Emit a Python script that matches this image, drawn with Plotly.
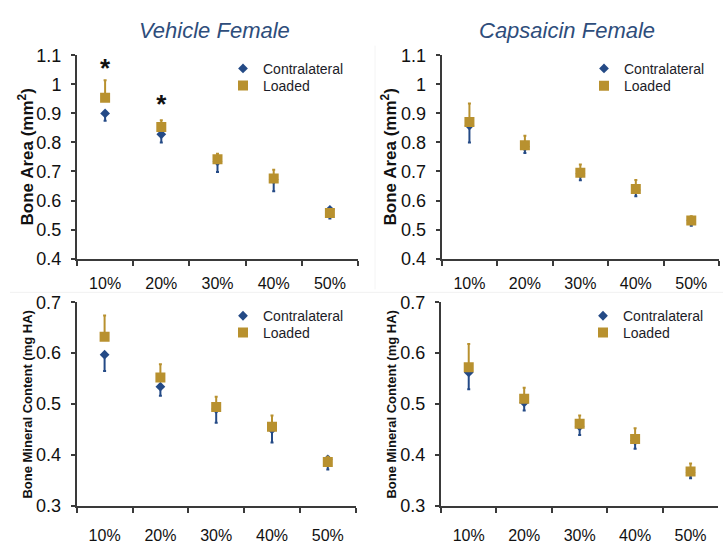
import plotly.graph_objects as go

# Cross-section positions along the bone
positions = ["10%", "20%", "30%", "40%", "50%"]

# Bone area (mm²) – vehicle females
veh_area_contra = [0.900, 0.828, 0.735, 0.672, 0.568]
veh_area_contra_err = [0.025, 0.028, 0.037, 0.040, 0.030]
veh_area_loaded = [0.954, 0.853, 0.742, 0.676, 0.557]
veh_area_loaded_err = [0.060, 0.023, 0.019, 0.030, 0.010]

# Bone area (mm²) – capsaicin females
cap_area_contra = [0.858, 0.785, 0.692, 0.636, 0.532]
cap_area_contra_err = [0.058, 0.021, 0.022, 0.021, 0.019]
cap_area_loaded = [0.870, 0.790, 0.696, 0.640, 0.531]
cap_area_loaded_err = [0.064, 0.033, 0.028, 0.031, 0.015]

# Bone mineral content (mg HA) – vehicle females
veh_bmc_contra = [0.597, 0.534, 0.490, 0.450, 0.391]
veh_bmc_contra_err = [0.032, 0.018, 0.027, 0.026, 0.020]
veh_bmc_loaded = [0.632, 0.552, 0.494, 0.455, 0.386]
veh_bmc_loaded_err = [0.042, 0.026, 0.020, 0.022, 0.010]

# Bone mineral content (mg HA) – capsaicin females
cap_bmc_contra = [0.562, 0.503, 0.456, 0.428, 0.365]
cap_bmc_contra_err = [0.033, 0.016, 0.017, 0.016, 0.011]
cap_bmc_loaded = [0.572, 0.510, 0.461, 0.431, 0.367]
cap_bmc_loaded_err = [0.046, 0.022, 0.016, 0.021, 0.016]

# Significance markers (vehicle bone area): text anchor heights
sig_positions = ["10%", "20%"]
sig_label_y = [1.046, 0.922]

panel_titles = ["Vehicle Female", "Capsaicin Female"]
area_title = "Bone Area (mm<sup>2</sup>)"
bmc_title = "Bone Mineral Content (mg HA)"

BLUE = "#244A86"
GOLD = "#B8912F"
AXIS = "#3a3a3a"
FONT = "Liberation Sans"
W, H = 723, 550

fig = go.Figure()

# (axis suffix, contra legend, loaded legend, contra, contra err, loaded, loaded err)
panels = [
    ("", "legend", "legend2", veh_area_contra, veh_area_contra_err, veh_area_loaded, veh_area_loaded_err),
    ("2", "legend3", "legend4", cap_area_contra, cap_area_contra_err, cap_area_loaded, cap_area_loaded_err),
    ("3", "legend5", "legend6", veh_bmc_contra, veh_bmc_contra_err, veh_bmc_loaded, veh_bmc_loaded_err),
    ("4", "legend7", "legend8", cap_bmc_contra, cap_bmc_contra_err, cap_bmc_loaded, cap_bmc_loaded_err),
]

for suf, leg_c, leg_l, c, ce, l, le in panels:
    fig.add_trace(go.Scatter(
        x=positions, y=c, mode="markers", name="Contralateral",
        xaxis="x" + suf, yaxis="y" + suf, legend=leg_c,
        marker=dict(symbol="diamond", size=7.5, color=BLUE),
        error_y=dict(type="data", symmetric=False, array=[0] * len(ce), arrayminus=ce,
                     color=BLUE, thickness=2, width=1.5),
    ))
    fig.add_trace(go.Scatter(
        x=positions, y=l, mode="markers", name="Loaded",
        xaxis="x" + suf, yaxis="y" + suf, legend=leg_l,
        marker=dict(symbol="square", size=10, color=GOLD),
        error_y=dict(type="data", symmetric=False, array=le, arrayminus=[0] * len(le),
                     color=GOLD, thickness=2, width=1.5),
    ))

# Significance asterisks
fig.add_trace(go.Scatter(
    x=sig_positions, y=sig_label_y, mode="text", text=["<b>*</b>"] * len(sig_positions),
    textposition="middle center", textfont=dict(family=FONT, size=26, color="#111"),
    showlegend=False, hoverinfo="skip", xaxis="x", yaxis="y",
))

# Plot-area placement in pixels: (left, right, top, bottom)
boxes = {
    "": (77, 358, 47, 258),
    "2": (441.7, 719, 47, 258),
    "3": (76.7, 355.7, 303.3, 514.3),
    "4": (441, 718.3, 303.3, 514.3),
}

def xdom(b):
    return [b[0] / W, b[1] / W]

def ydom(b):
    return [1 - b[3] / H, 1 - b[2] / H]

common_x = dict(
    type="category", range=[-0.5, 4.5], tickson="boundaries",
    showline=True, linecolor=AXIS, linewidth=2, showgrid=False, zeroline=False,
    ticks="outside", ticklen=5, tickwidth=1.5, tickcolor=AXIS,
    tickfont=dict(family=FONT, size=16, color="#111"),
)
common_y = dict(
    showline=True, linecolor=AXIS, linewidth=2, showgrid=False, zeroline=False,
    ticks="outside", ticklen=4, tickwidth=1.5, tickcolor=AXIS,
    tickfont=dict(family=FONT, size=18, color="#111"),
    ticklabelstandoff=6,
)

layout_axes = {}
for suf, top_row in [("", True), ("2", True), ("3", False), ("4", False)]:
    b = boxes[suf]
    xa = dict(common_x, domain=xdom(b), anchor="y" + suf,
              ticklabelstandoff=9 if top_row else 14)
    if top_row:
        ya = dict(common_y, domain=ydom(b), anchor="x" + suf, range=[0.4, 1.1],
                  tickvals=[0.4, 0.5, 0.6, 0.7, 0.8, 0.9, 1.0, 1.1],
                  ticktext=["0.4", "0.5", "0.6", "0.7", "0.8", "0.9", "1", "1.1"])
    else:
        ya = dict(common_y, domain=ydom(b), anchor="x" + suf, range=[0.3, 0.7],
                  tickvals=[0.3, 0.4, 0.5, 0.6, 0.7])
    layout_axes["xaxis" + suf] = xa
    layout_axes["yaxis" + suf] = ya

fig.update_layout(**layout_axes)

# One single-entry legend per series per panel: (left px, centre px)
leg_font = dict(family=FONT, size=14, color="#1c1c28")
legend_pos = {
    "legend": (223, 61), "legend2": (223, 78.7),
    "legend3": (584, 61), "legend4": (584, 79),
    "legend5": (223, 317.7), "legend6": (223, 335),
    "legend7": (583, 317.7), "legend8": (583, 335),
}
for leg, (lx, ly) in legend_pos.items():
    fig.update_layout({leg: dict(x=lx / W, y=1 - ly / H, xanchor="left", yanchor="middle",
                                 bgcolor="rgba(0,0,0,0)", borderwidth=0, font=leg_font,
                                 itemwidth=30)})

annotations = []
# Panel titles
for text, cx in zip(panel_titles, [214, 567]):
    annotations.append(dict(
        text="<i>" + text + "</i>", x=cx / W, y=1 - 21 / H, xref="paper", yref="paper",
        xanchor="center", yanchor="middle", showarrow=False,
        font=dict(family=FONT, size=22, color="#2E4D7B"),
    ))
# Vertical axis titles
for text, cx, cy, size in [(area_title, 26, 153, 17), (area_title, 389, 153, 17),
                           (bmc_title, 28, 409.5, 13), (bmc_title, 392, 409.5, 13)]:
    annotations.append(dict(
        text="<b>" + text + "</b>", x=cx / W, y=1 - cy / H, xref="paper", yref="paper",
        xanchor="center", yanchor="middle", textangle=-90, showarrow=False,
        font=dict(family=FONT, size=size, color="#111"),
    ))

fig.update_layout(
    width=W, height=H, margin=dict(l=0, r=0, t=0, b=0), showlegend=True,
    paper_bgcolor="white", plot_bgcolor="white",
    annotations=annotations,
    shapes=[
        # faint seams between the four panels
        dict(type="line", xref="paper", yref="paper", x0=10 / W, x1=1, y0=1 - 293 / H, y1=1 - 293 / H,
             line=dict(color="#f1f1f1", width=1)),
        dict(type="line", xref="paper", yref="paper", x0=375 / W, x1=375 / W, y0=1 - 290 / H, y1=1 - 37 / H,
             line=dict(color="#f4f4f4", width=1)),
    ],
)

fig.write_html("out.html")
